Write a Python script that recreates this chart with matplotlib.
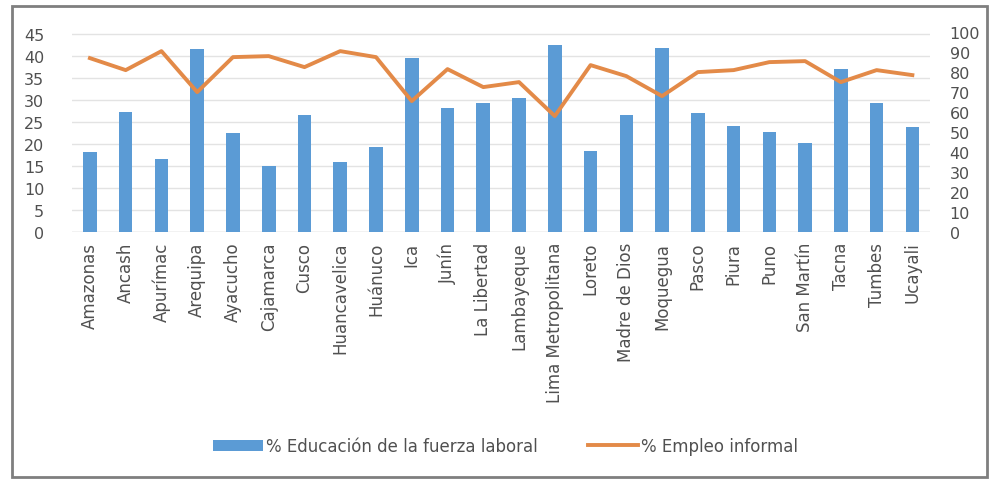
import matplotlib.pyplot as plt
import numpy as np
from matplotlib.patches import Rectangle

# Regiones del Perú
regiones = ["Amazonas", "Ancash", "Apurímac", "Arequipa", "Ayacucho", "Cajamarca",
            "Cusco", "Huancavelica", "Huánuco", "Ica", "Junín", "La Libertad",
            "Lambayeque", "Lima Metropolitana", "Loreto", "Madre de Dios",
            "Moquegua", "Pasco", "Piura", "Puno", "San Martín", "Tacna",
            "Tumbes", "Ucayali"]

# % Educación de la fuerza laboral (eje izquierdo)
educacion = [18.2, 27.3, 16.6, 41.6, 22.5, 15.0, 26.6, 16.0, 19.3, 39.7, 28.2, 29.3,
             30.6, 42.5, 18.4, 26.6, 41.8, 27.2, 24.1, 22.7, 20.2, 37.2, 29.3, 23.8]

# % Empleo informal (eje derecho)
informal = [87.0, 81.0, 90.5, 70.0, 87.5, 88.0, 82.5, 90.5, 87.5, 65.5, 81.5, 72.5,
            75.0, 58.0, 83.5, 78.0, 68.0, 80.0, 81.0, 85.0, 85.5, 75.0, 81.0, 78.5]

azul = "#5B9BD5"
naranja = "#E38A48"
gris = "#505050"

fig = plt.figure(figsize=(9.91, 4.81), dpi=100)
ax = fig.add_axes([0.0727, 0.5156, 0.866, 0.4155])
ax2 = ax.twinx()

x = np.arange(len(regiones))
barras = ax.bar(x, educacion, width=0.38, color=azul, zorder=2,
                label="% Educación de la fuerza laboral")
linea, = ax2.plot(x, informal, color=naranja, lw=2.8, zorder=3,
                  label="% Empleo informal")

ax.set_xlim(-0.5, len(regiones) - 0.5)
ax.set_ylim(0, 45.5)
ax.set_yticks(np.arange(0, 46, 5))
ax2.set_ylim(0, 100)
ax2.set_yticks(np.arange(0, 101, 10))

ax.set_xticks(x)
ax.set_xticklabels(regiones, rotation=90, fontsize=12, color=gris)
ax.tick_params(axis="x", length=0, pad=7)
ax.tick_params(axis="y", length=0, labelsize=11.5, labelcolor=gris, pad=20)
ax2.tick_params(axis="y", length=0, labelsize=11.5, labelcolor=gris, pad=14)

ax.grid(axis="y", color="#E3E3E3", lw=1, zorder=0)
ax.set_axisbelow(True)
for a in (ax, ax2):
    for s in a.spines.values():
        s.set_visible(False)
ax.axhline(0, color="#D9D9D9", lw=1, zorder=1)

fig.legend(handles=[barras, linea], loc="center", bbox_to_anchor=(0.51, 0.07),
           ncol=2, frameon=False, fontsize=12, labelcolor=gris,
           handlelength=3.0, handletextpad=0.2, columnspacing=3.0)

# marco exterior del gráfico
fig.patches.append(Rectangle((0.012, 0.006), 0.984, 0.98, transform=fig.transFigure,
                             fill=False, edgecolor="#7F7F7F", lw=2))

fig.savefig("out.png", dpi=100)
